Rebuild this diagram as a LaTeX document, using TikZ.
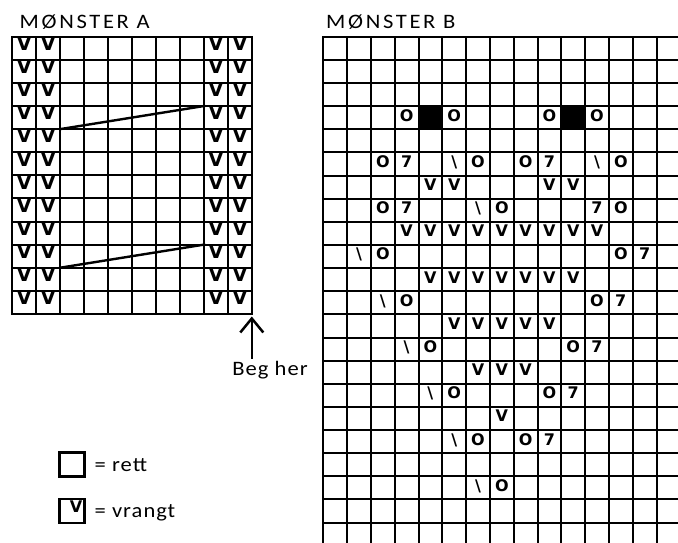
\documentclass[tikz,border=0pt]{standalone}
\usepackage{fontspec}
\setmainfont{Carlito}
\newfontfamily\headfont{Carlito}[FakeStretch=1.1, LetterSpace=13]
\newfontfamily\lblfont{Carlito}[FakeStretch=1.1, LetterSpace=5]
\newfontfamily\symfont{DejaVu Sans}
\usetikzlibrary{arrows.meta, positioning}
\newcommand{\knitbs}{\textbackslash}

\begin{document}
\begin{tikzpicture}[
        x=1pt, y=-1pt,
        gridline/.style={line width=2.4pt, line cap=rect},
        head/.style={inner sep=0, anchor=base west, font=\headfont\fontsize{20.5}{22}\selectfont},
        lbl/.style={inner sep=2.5pt, font=\lblfont\fontsize{20.5}{22}\selectfont},
        bigv/.style={inner sep=0, anchor=base, font=\symfont\bfseries\fontsize{19}{19}\selectfont},
        sym/.style={inner sep=0, anchor=base, font=\symfont\bfseries\fontsize{16}{16}\selectfont},
        legbox/.style={draw, line width=2.5pt, minimum width=25pt, minimum height=24pt, inner sep=0},
        arrow/.style={-{Straight Barb[length=14pt, width=23pt]}, line width=2.5pt}
    ]
    \useasboundingbox (0,0) rectangle (678,542);
    \def\ax{12.3} \def\ay{36.7} \def\aw{23.97} \def\ah{23.1}
    \def\bx{323.3} \def\by{36.7} \def\bw{23.8} \def\bh{23.14}

    \node[head] (heada) at (19.5,28) {MØNSTER A};
    \node[head] (headb) at (326,28) {MØNSTER B};

    % mønster A
    \foreach \i [evaluate=\i as \xx using {round(\ax+\aw*\i)}] in {0,...,10}
        \draw[gridline] (\xx,{round(\ay)}) -- (\xx,{round(\ay+12*\ah)});
    \foreach \j [evaluate=\j as \yy using {round(\ay+\ah*\j)}] in {0,...,12}
        \draw[gridline] ({round(\ax)},\yy) -- ({round(\ax+10*\aw)},\yy);
    \foreach \r in {0,...,11}
        \foreach \c in {0,1,8,9}
            \node[bigv] (va-\r-\c) at ({\ax+\aw*(\c+0.5)},{\ay+\ah*\r+13.8}) {V};
    \draw[gridline] ({\ax+2*\aw},{\ay+4*\ah}) -- ({\ax+8*\aw},{\ay+3*\ah});
    \draw[gridline] ({\ax+2*\aw},{\ay+10*\ah}) -- ({\ax+8*\aw},{\ay+9*\ah});

    \coordinate (begtip) at (251.8,316.5);
    \node[lbl, anchor=base] (beg) at (270,375.5) {Beg her};
    \draw[arrow] (beg.north -| begtip) -- (begtip);

    % mønster B
    \foreach \c in {4,10}
        \fill ({round(\bx+\bw*\c)},{round(\by+3*\bh)}) rectangle ({round(\bx+\bw*(\c+1))},{round(\by+4*\bh)});
    \foreach \i [evaluate=\i as \xx using {round(\bx+\bw*\i)}] in {0,...,14}
        \draw[gridline] (\xx,{round(\by)}) -- (\xx,542);
    \foreach \j [evaluate=\j as \yy using {round(\by+\bh*\j)}] in {0,...,21}
        \draw[gridline] ({round(\bx)},\yy) -- (678,\yy);
    \foreach \r/\c/\s in {3/3/O, 3/5/O, 3/9/O, 3/11/O,
            5/2/O, 5/3/7, 5/5/\knitbs, 5/6/O, 5/8/O, 5/9/7, 5/11/\knitbs, 5/12/O,
            7/2/O, 7/3/7, 7/6/\knitbs, 7/7/O, 7/11/7, 7/12/O,
            9/1/\knitbs, 9/2/O, 9/12/O, 9/13/7,
            11/2/\knitbs, 11/3/O, 11/11/O, 11/12/7,
            13/3/\knitbs, 13/4/O, 13/10/O, 13/11/7,
            15/4/\knitbs, 15/5/O, 15/9/O, 15/10/7,
            17/5/\knitbs, 17/6/O, 17/8/O, 17/9/7,
            19/6/\knitbs, 19/7/O}
        \node[sym] (sb-\r-\c) at ({\bx+\bw*(\c+0.5)},{\by+\bh*\r+15}) {\s};
    \foreach \r/\from/\to in {6/4/5, 6/9/10, 8/3/11, 10/4/10, 12/5/9, 14/6/8, 16/7/7}
        \foreach \c in {\from,...,\to}
            \node[sym] (vb-\r-\c) at ({\bx+\bw*(\c+0.5)},{\by+\bh*\r+15}) {V};

    % forklaring
    \node[legbox] (rettbox) at (72.2,464.5) {};
    \node[legbox] (vrangtbox) at (72.2,511) {};
    \node[sym] (vrangtv) at (76,512) {V};
    \node[lbl, anchor=base west, inner sep=0] (rett) at (94.5,471.7) {= rett};
    \node[lbl, anchor=base west, inner sep=0] (vrangt) at (94.5,517) {= vrangt};
\end{tikzpicture}
\end{document}
